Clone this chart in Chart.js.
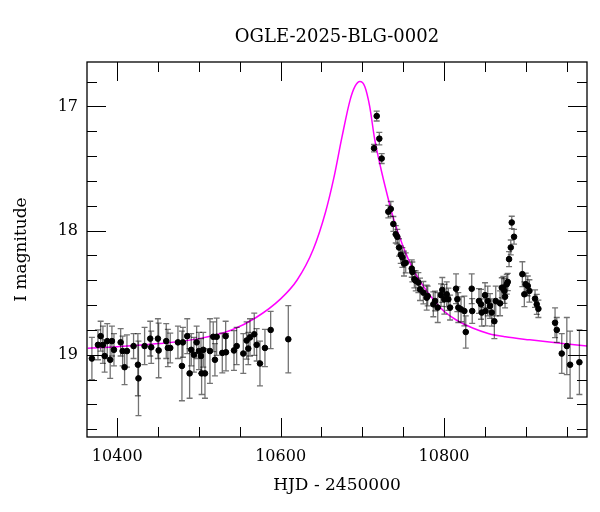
<!DOCTYPE html>
<html lang="en">
<head>
    <meta charset="UTF-8">
    <title>OGLE-2025-BLG-0002</title>
    <script src="https://cdn.jsdelivr.net/npm/chart.js"></script>
    <style>
        body {
            margin: 0;
            background: #fff;
        }
        .chart-box {
            width: 600px;
            height: 512px;
        }
    </style>
</head>
<body>
    <div class="chart-box">
        <canvas id="lcChart"></canvas>
    </div>

    <script>
        // photometry: HJD - 2450000, I magnitude, error
        const hjd = [
            10369.0, 10376.4, 10379.7, 10382.5, 10384.6, 10387.8, 10391.4, 10393.5, 10396.0, 10404.2,
            10406.6, 10409.0, 10411.9, 10420.0, 10425.3, 10426.0, 10433.5, 10440.4, 10441.6, 10449.8,
            10450.7, 10460.0, 10462.0, 10464.9, 10474.3, 10479.2, 10480.4, 10485.7, 10488.6, 10490.6,
            10493.9, 10497.2, 10500.0, 10502.5, 10503.3, 10505.3, 10507.4, 10513.5, 10517.5, 10519.6,
            10521.7, 10528.6, 10532.7, 10533.1, 10542.9, 10546.2, 10554.3, 10558.4, 10560.4, 10562.5,
            10567.7, 10570.7, 10574.7, 10580.8, 10587.8, 10609.4,
            10714.3, 10717.6, 10720.8, 10723.7, 10731.8, 10734.8, 10738.0, 10740.9, 10742.8, 10744.9,
            10747.0, 10749.0, 10751.0, 10753.1, 10760.5, 10761.2, 10763.7, 10765.4, 10768.6, 10770.6,
            10774.7, 10778.8, 10780.0, 10786.9, 10789.0, 10792.3, 10796.3, 10797.9, 10800.4, 10803.3,
            10805.3, 10807.4, 10814.7, 10816.3, 10817.5, 10820.8, 10824.9, 10826.6, 10833.9, 10834.5,
            10842.8, 10845.3, 10846.2, 10850.2, 10850.8, 10853.5, 10856.3, 10858.4, 10861.6, 10863.3,
            10868.6, 10870.7, 10872.6, 10873.9, 10874.7, 10876.8, 10878.0, 10879.6, 10881.7, 10882.9,
            10885.7, 10895.9, 10898.3, 10900.0, 10902.5, 10904.5, 10911.4, 10913.5, 10915.5, 10935.9,
            10938.0, 10944.1, 10950.3, 10954.3, 10965.7
        ];
        const mag = [
            19.03, 18.92, 18.85, 18.92, 19.01, 18.89, 19.04, 18.89, 18.96, 18.90,
            18.97, 19.10, 18.97, 18.93, 19.08, 19.19, 18.93, 18.87, 18.94, 18.87,
            18.965, 18.89, 18.945, 18.945, 18.90, 19.09, 18.90, 18.85, 19.15, 18.96,
            19.00, 18.90, 18.97, 19.01, 19.15, 18.96, 19.15, 18.97, 18.855, 19.04,
            18.855, 18.985, 18.85, 18.98, 18.965, 18.93, 18.99, 18.885, 18.95, 18.86,
            18.835, 18.92, 19.07, 18.945, 18.80, 18.875,
            17.337, 17.078, 17.26, 17.42, 17.848, 17.826, 17.947, 18.03, 18.05, 18.136,
            18.195, 18.217, 18.266, 18.26, 18.306, 18.333, 18.392, 18.405, 18.419, 18.473,
            18.50, 18.54, 18.527, 18.594, 18.567, 18.62, 18.52, 18.478, 18.553, 18.513,
            18.553, 18.62, 18.468, 18.553, 18.62, 18.634, 18.648, 18.817, 18.468, 18.648,
            18.567, 18.594, 18.66, 18.52, 18.648, 18.567, 18.607, 18.66, 18.73, 18.567,
            18.586, 18.46, 18.46, 18.486, 18.532, 18.432, 18.414, 18.23, 18.136, 17.935,
            18.05, 18.351, 18.513, 18.432, 18.446, 18.486, 18.548, 18.594, 18.63, 18.742,
            18.80, 18.99, 18.93, 19.08, 19.06
        ];
        const magErr = [
            0.17, 0.12, 0.12, 0.15, 0.13, 0.14, 0.15, 0.12, 0.13, 0.11,
            0.12, 0.14, 0.13, 0.10, 0.25, 0.30, 0.15, 0.14, 0.13, 0.16,
            0.22, 0.14, 0.15, 0.12, 0.13, 0.28, 0.12, 0.14, 0.20, 0.13,
            0.14, 0.13, 0.15, 0.14, 0.17, 0.14, 0.20, 0.26, 0.12, 0.13,
            0.15, 0.16, 0.12, 0.15, 0.16, 0.15, 0.16, 0.15, 0.13, 0.15,
            0.17, 0.13, 0.18, 0.15, 0.15, 0.27,
            0.03, 0.04, 0.05, 0.04, 0.05, 0.06, 0.06, 0.07, 0.06, 0.07,
            0.07, 0.08, 0.10, 0.08, 0.07, 0.08, 0.07, 0.08, 0.08, 0.09,
            0.09, 0.10, 0.08, 0.10, 0.08, 0.12, 0.09, 0.10, 0.12, 0.10,
            0.09, 0.10, 0.12, 0.10, 0.12, 0.10, 0.12, 0.13, 0.12, 0.10,
            0.10, 0.12, 0.11, 0.10, 0.12, 0.12, 0.10, 0.11, 0.14, 0.12,
            0.10, 0.08, 0.09, 0.10, 0.09, 0.08, 0.07, 0.06, 0.06, 0.05,
            0.06, 0.10, 0.10, 0.09, 0.08, 0.09, 0.07, 0.08, 0.07, 0.12,
            0.10, 0.16, 0.23, 0.27, 0.26
        ];

        // model curve
        const modelHjd = [
            10364, 10400, 10450, 10500, 10540, 10570, 10600, 10620, 10640, 10655,
            10665, 10675, 10685, 10691, 10697, 10703, 10709, 10715, 10722, 10730,
            10738, 10750, 10762, 10777, 10790, 10800, 10815, 10835, 10855, 10875,
            10905, 10945, 10976
        ];
        const modelMag = [
            18.948, 18.935, 18.91, 18.87, 18.80, 18.70, 18.55, 18.40, 18.15, 17.85,
            17.58, 17.25, 16.95, 16.84, 16.80, 16.84, 17.00, 17.26, 17.48, 17.70,
            17.90, 18.13, 18.31, 18.47, 18.58, 18.65, 18.72, 18.785, 18.83, 18.855,
            18.88, 18.91, 18.93
        ];

        const xLabels = [10400, 10600, 10800];
        const yLabels = [17, 18, 19];

        const serif = "'DejaVu Serif', serif";

        function isLabelled(v, list) {
            return list.some(t => Math.abs(t - v) < 1e-6);
        }

        // frame, inward ticks on all four sides, title, error bars
        const framePlugin = {
            id: 'frame',
            beforeDatasetDraw(chart, args) {
                if (args.index !== 0) return;
                const ctx = chart.ctx;
                const xs = chart.scales.x, ys = chart.scales.y;
                ctx.save();
                ctx.strokeStyle = 'rgba(0,0,0,0.55)';
                ctx.lineWidth = 1.3;
                for (let i = 0; i < hjd.length; i++) {
                    const px = xs.getPixelForValue(hjd[i]);
                    const y1 = ys.getPixelForValue(mag[i] - magErr[i]);
                    const y2 = ys.getPixelForValue(mag[i] + magErr[i]);
                    ctx.beginPath();
                    ctx.moveTo(px, y1); ctx.lineTo(px, y2);
                    ctx.moveTo(px - 3, y1); ctx.lineTo(px + 3, y1);
                    ctx.moveTo(px - 3, y2); ctx.lineTo(px + 3, y2);
                    ctx.stroke();
                }
                ctx.restore();
            },
            afterDraw(chart) {
                const ctx = chart.ctx;
                const a = chart.chartArea;
                const xs = chart.scales.x, ys = chart.scales.y;
                ctx.save();
                ctx.strokeStyle = '#000';
                ctx.lineWidth = 1;
                ctx.beginPath();
                xs.ticks.forEach(t => {
                    const px = Math.round(xs.getPixelForValue(t.value)) + 0.5;
                    const len = isLabelled(t.value, xLabels) ? 19 : 10;
                    ctx.moveTo(px, a.bottom); ctx.lineTo(px, a.bottom - len);
                    ctx.moveTo(px, a.top); ctx.lineTo(px, a.top + len);
                });
                ys.ticks.forEach(t => {
                    const py = Math.round(ys.getPixelForValue(t.value)) + 0.5;
                    const len = isLabelled(t.value, yLabels) ? 19 : 10;
                    ctx.moveTo(a.left, py); ctx.lineTo(a.left + len, py);
                    ctx.moveTo(a.right, py); ctx.lineTo(a.right - len, py);
                });
                ctx.stroke();
                ctx.lineWidth = 1.3;
                ctx.strokeRect(a.left, a.top, a.right - a.left, a.bottom - a.top);

                ctx.fillStyle = '#000';
                ctx.font = "18px " + serif;
                ctx.textAlign = 'center';
                ctx.textBaseline = 'alphabetic';
                ctx.fillText('OGLE-2025-BLG-0002', (a.left + a.right) / 2, 41.5);
                ctx.restore();
            }
        };

        const ctx = document.getElementById('lcChart').getContext('2d');
        const lcChart = new Chart(ctx, {
            type: 'scatter',
            data: {
                datasets: [{
                    label: 'OGLE I',
                    data: hjd.map((t, i) => ({ x: t, y: mag[i] })),
                    backgroundColor: '#000',
                    borderColor: '#000',
                    pointRadius: 2.8,
                    pointHoverRadius: 2.8,
                    order: 0
                }, {
                    label: 'model',
                    data: modelHjd.map((t, i) => ({ x: t, y: modelMag[i] })),
                    showLine: true,
                    cubicInterpolationMode: 'monotone',
                    borderColor: '#ff00ff',
                    borderWidth: 1.5,
                    pointRadius: 0,
                    fill: false,
                    order: 1
                }]
            },
            options: {
                responsive: true,
                maintainAspectRatio: false,
                animation: false,
                layout: { padding: { top: 62, right: 13, left: 0, bottom: 0 } },
                plugins: {
                    legend: { display: false },
                    tooltip: { enabled: false }
                },
                scales: {
                    x: {
                        type: 'linear',
                        min: 10363,
                        max: 10975,
                        grid: { display: false, drawTicks: false },
                        border: { display: false },
                        ticks: {
                            stepSize: 50,
                            includeBounds: false,
                            autoSkip: false,
                            maxRotation: 0,
                            padding: 10,
                            color: '#000',
                            font: { family: serif, size: 16 },
                            callback: v => isLabelled(v, xLabels) ? String(v) : ''
                        },
                        title: {
                            display: true,
                            text: 'HJD - 2450000',
                            color: '#000',
                            font: { family: serif, size: 17 },
                            padding: { top: 4, bottom: 16 }
                        },
                        afterFit: scale => { scale.height = 75; }
                    },
                    y: {
                        type: 'linear',
                        reverse: true,
                        min: 16.643,
                        max: 19.662,
                        grid: { display: false, drawTicks: false },
                        border: { display: false },
                        ticks: {
                            stepSize: 0.2,
                            includeBounds: false,
                            autoSkip: false,
                            padding: 9,
                            color: '#000',
                            font: { family: serif, size: 16 },
                            callback: v => isLabelled(v, yLabels) ? String(Math.round(v)) : ''
                        },
                        title: {
                            display: true,
                            text: 'I magnitude',
                            color: '#000',
                            font: { family: serif, size: 17 },
                            padding: { top: 11, bottom: 4 }
                        },
                        afterFit: scale => { scale.width = 87; }
                    }
                }
            },
            plugins: [framePlugin]
        });
    </script>
</body>
</html>
